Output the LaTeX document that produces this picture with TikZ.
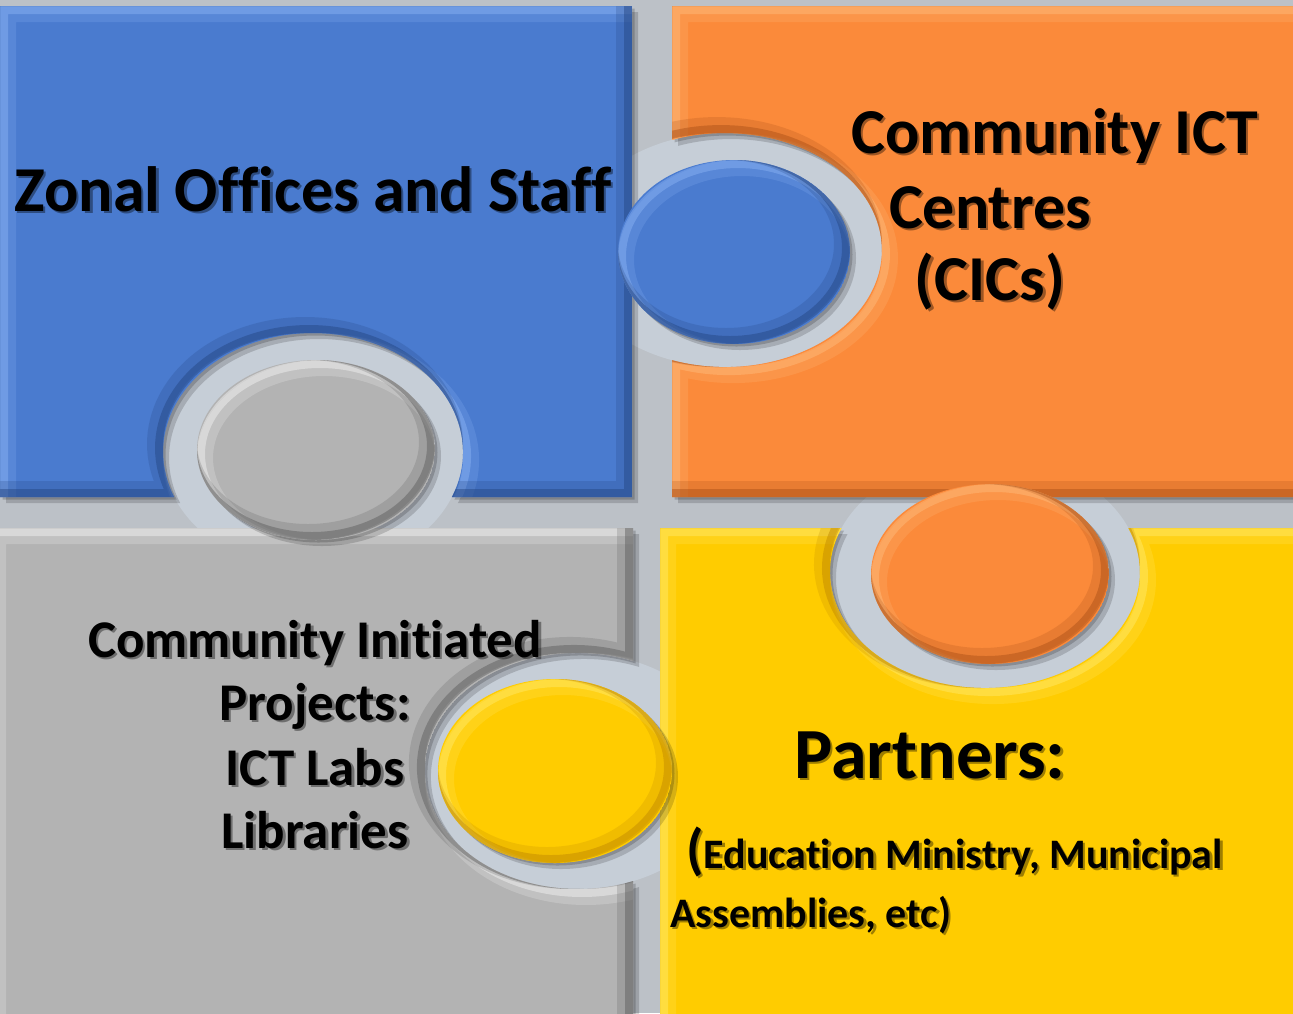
\documentclass[tikz,border=0pt]{standalone}
\usepackage{fontspec}
\setmainfont[Ligatures=NoCommon]{Carlito}
\definecolor{bgc}{HTML}{BCC1C7}
\definecolor{ringc}{HTML}{C6CED7}
\definecolor{bl}{HTML}{4A7BCF}\definecolor{blL}{HTML}{8CB4F5}\definecolor{blD}{HTML}{23447F}
\definecolor{orc}{HTML}{FB8A3A}\definecolor{orL}{HTML}{FFBE80}\definecolor{orD}{HTML}{A84E16}
\definecolor{ye}{HTML}{FFCC00}\definecolor{yeL}{HTML}{FFEB70}\definecolor{yeD}{HTML}{BF8600}
\definecolor{grc}{HTML}{B3B3B3}\definecolor{grL}{HTML}{F6F6F6}\definecolor{grD}{HTML}{5A5A5A}
\newcommand\bevelshape[4]{%
  \fill[black,opacity=.16,shift={(6,6)}] #1;
  \fill[black,opacity=.18,shift={(2.5,2.5)}] #1;
  \begin{scope}
    \clip #1;
    \fill[#2] #1;
    \draw[#3,line width=16,opacity=.22,shift={(8,8)}] #1;
    \draw[#3,line width=8,opacity=.45,shift={(4,4)}] #1;
    \draw[#4,line width=16,opacity=.22,shift={(-8,-8)}] #1;
    \draw[#4,line width=8,opacity=.45,shift={(-4,-4)}] #1;
  \end{scope}}
\newcommand\fA{\fontsize{64}{70}\selectfont\bfseries}
\newcommand\fB{\fontsize{53}{60}\selectfont\bfseries}
\newcommand\fC{\fontsize{72}{80}\selectfont\bfseries}
\newcommand\fD{\fontsize{42}{48}\selectfont\bfseries}
\newcommand\fE{\fontsize{56}{60}\selectfont\bfseries}
\tikzset{lbl/.style={inner sep=0pt,anchor=base,text=black},
  shd/.style={text opacity=.38,shift={(2.5,2.5)}}}
\newcommand\shtext[4]{%
  \node[lbl,#4,shd] (#1s) at #2 {#3};
  \node[lbl,#4] (#1) at #2 {#3};}
\begin{document}
\begin{tikzpicture}[x=1pt,y=-1pt]
\useasboundingbox (0,0) rectangle (1293,1013);
\clip (0,0) rectangle (1293,1013);
\fill[bgc] (0,0) rectangle (1293,1013);
% light rings behind sockets
\fill[ringc] (313,452) ellipse [x radius=150pt, y radius=119pt];
\fill[ringc] (725,250) ellipse [x radius=157pt, y radius=117pt];
\fill[ringc] (985,572) ellipse [x radius=155pt, y radius=116pt];
\fill[ringc] (578,771) ellipse [x radius=153pt, y radius=118pt];
% bodies
\bevelshape{(0,6) -- (632,6) -- (632,497) -- (451.9,497) arc[start angle=-22.2, end angle=202.2, x radius=150pt, y radius=119pt] -- (0,497) -- cycle}{bl}{blL}{blD}
\bevelshape{(672,6) -- (1310,6) -- (1310,497) -- (672,497) -- (672,360.2) arc[start angle=250.3, end angle=469.7, x radius=157pt, y radius=117pt] -- cycle}{orc}{orL}{orD}
\bevelshape{(660,528) -- (841.6,528) arc[start angle=157.7, end angle=382.3, x radius=155pt, y radius=116pt] -- (1310,528) -- (1310,1030) -- (660,1030) -- cycle}{ye}{yeL}{yeD}
\bevelshape{(-10,528) -- (633,528) -- (633,660.9) arc[start angle=68.9, end angle=291.1, x radius=153pt, y radius=118pt] -- (633,1030) -- (-10,1030) -- cycle}{grc}{grL}{grD}
% tabs
\bevelshape{(734,252) ellipse [x radius=116pt, y radius=92pt]}{bl}{blL}{blD}
\bevelshape{(990,574) ellipse [x radius=119pt, y radius=90pt]}{orc}{orL}{orD}
\bevelshape{(555,771) ellipse [x radius=117pt, y radius=92pt]}{ye}{yeL}{yeD}
\bevelshape{(316,450) ellipse [x radius=119pt, y radius=90pt]}{grc}{grL}{grD}
% texts
\shtext{z}{(313,211)}{\fA Zonal Offices and Staff}{}
\shtext{ca}{(1054.5,153)}{\fA Community ICT}{}
\shtext{cb}{(990,228)}{\fA Centres}{}
\shtext{cc}{(990,300)}{\fA (CICs)}{}
\shtext{ga}{(315,657)}{\fB Community Initiated}{}
\shtext{gb}{(315,720)}{\fB Projects:}{}
\shtext{gc}{(315,785)}{\fB ICT Labs}{}
\shtext{gd}{(315,848)}{\fB Libraries}{}
\shtext{pa}{(930,778)}{\fC Partners:}{}
\shtext{pb}{(686,868)}{{\fE (}{\fD Education Ministry, Municipal}}{anchor=base west}
\shtext{pc}{(670,927)}{\fD Assemblies, etc)}{anchor=base west}
\end{tikzpicture}
\end{document}
